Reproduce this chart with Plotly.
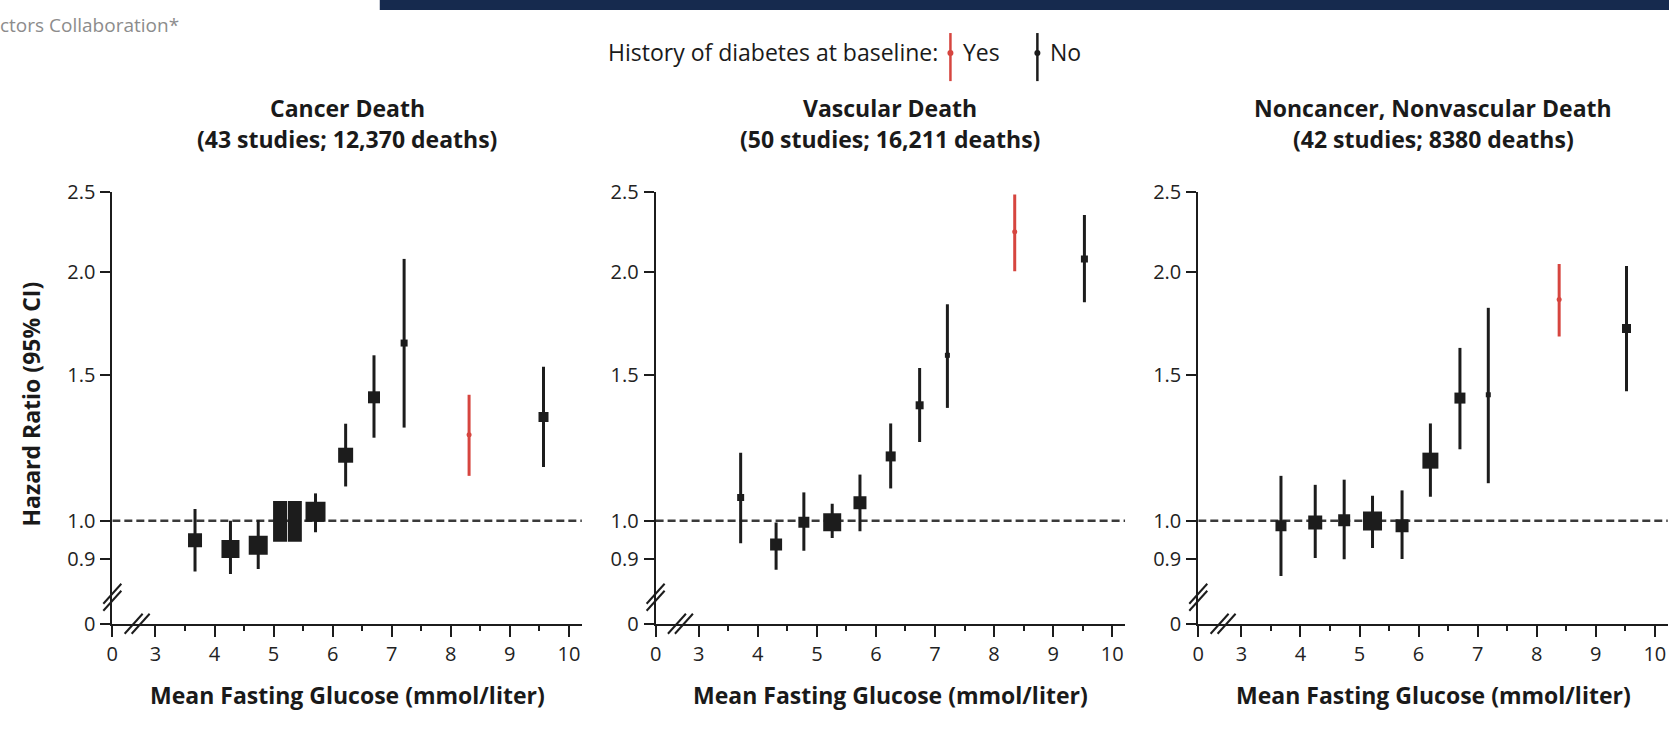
import math
import plotly.graph_objects as go

W, H = 1669, 733          # target picture size
# the photographed frame shows the page slightly enlarged around the figure;
# size and pin the figure so that paper fractions map onto the target frame
SX, SY = 0.997, 0.9636
W2, H2 = round(W / SX), round(H / SY)
OFF_X, OFF_Y = -5, -14

# ---------------- data ----------------
panel_titles = ["Cancer Death", "Vascular Death", "Noncancer, Nonvascular Death"]
panel_subtitles = ["(43 studies; 12,370 deaths)", "(50 studies; 16,211 deaths)",
                   "(42 studies; 8380 deaths)"]

# Cancer death
cancer_x = [3.67, 4.27, 4.74, 5.11, 5.36, 5.71, 6.22, 6.70, 7.21, 8.31, 9.57]
cancer_hr = [0.947, 0.924, 0.934, 0.998, 0.998, 1.025, 1.20, 1.41, 1.64, 1.27, 1.335]
cancer_lo = [0.868, 0.862, 0.874, 0.960, 0.960, 0.968, 1.10, 1.26, 1.296, 1.133, 1.161]
cancer_hi = [1.033, 1.000, 1.002, 1.035, 1.035, 1.079, 1.31, 1.585, 2.073, 1.42, 1.535]
cancer_diabetes = [0, 0, 0, 0, 0, 0, 0, 0, 0, 1, 0]
cancer_weight = [14, 18, 19, 29, 29, 20, 15, 12, 7, 5, 10]

# Vascular death
vascular_x = [3.71, 4.31, 4.78, 5.26, 5.73, 6.25, 6.74, 7.21, 8.35, 9.53]
vascular_hr = [1.067, 0.936, 0.996, 0.996, 1.051, 1.196, 1.379, 1.585, 2.236, 2.073]
vascular_lo = [0.939, 0.872, 0.920, 0.953, 0.971, 1.094, 1.245, 1.369, 2.003, 1.837]
vascular_hi = [1.208, 0.995, 1.082, 1.048, 1.137, 1.311, 1.530, 1.827, 2.480, 2.343]
vascular_diabetes = [0, 0, 0, 0, 0, 0, 0, 0, 1, 0]
vascular_weight = [7, 12, 11, 18, 13, 10, 8, 5, 5, 7]

# Noncancer, nonvascular death
other_x = [3.67, 4.25, 4.74, 5.22, 5.72, 6.20, 6.70, 7.18, 8.38, 9.52]
other_hr = [0.986, 0.995, 1.001, 0.999, 0.986, 1.182, 1.407, 1.420, 1.851, 1.708]
other_lo = [0.857, 0.901, 0.898, 0.927, 0.899, 1.069, 1.220, 1.110, 1.670, 1.434]
other_hi = [1.133, 1.105, 1.121, 1.072, 1.088, 1.311, 1.618, 1.809, 2.044, 2.032]
other_diabetes = [0, 0, 0, 0, 0, 0, 0, 0, 1, 0]
other_weight = [11, 14, 12, 19, 13, 16, 11, 5, 5, 9]

panels = [
    (cancer_x, cancer_hr, cancer_lo, cancer_hi, cancer_diabetes, cancer_weight),
    (vascular_x, vascular_hr, vascular_lo, vascular_hi, vascular_diabetes, vascular_weight),
    (other_x, other_hr, other_lo, other_hi, other_diabetes, other_weight),
]

x_tick_vals = [3, 4, 5, 6, 7, 8, 9, 10]
x_minor_vals = [3.5, 4.5, 5.5, 6.5, 7.5, 8.5, 9.5]
y_tick_vals = [0.9, 1.0, 1.5, 2.0, 2.5]
y_tick_text = ["0.9", "1.0", "1.5", "2.0", "2.5"]

# axis breaks: displayed "0" sits at the broken-axis origin
X_ORIGIN, X_END = 2.27, 10.22
Y_ORIGIN, Y_TOP = 0.7505, 2.5
X_BREAK = 2.69
Y_BREAK = 0.808

# ---------------- styling ----------------
FONT = "Open Sans"
INK = "#1c1c1c"
RED = "#d6453f"
panel_left_px = [111.4, 655.0, 1198.0]
px_per_unit = 59.1
y_bottom_px, y_top_px = 622.9, 191.4

fig = go.Figure()
shapes, annotations = [], []


def px2x(p):
    return p / W


def px2y(p):
    return 1 - p / H


for i, (xs, hr, lo, hi, diab, wt) in enumerate(panels):
    ax = "" if i == 0 else str(i + 1)
    xa, ya = "x" + ax, "y" + ax
    left = panel_left_px[i]
    right = left + (X_END - X_ORIGIN) * px_per_unit
    dom = [px2x(left), px2x(min(right, W))]

    # reference line at HR = 1
    fig.add_trace(go.Scatter(x=[X_ORIGIN, X_END], y=[1.0, 1.0], mode="lines",
                             line=dict(color="#3a3a3a", width=2.5, dash="8px,4px"),
                             xaxis=xa, yaxis=ya, showlegend=False, hoverinfo="skip",
                             cliponaxis=False))

    for flag, color in ((0, INK), (1, RED)):
        idx = [k for k in range(len(xs)) if diab[k] == flag]
        px_ = [xs[k] for k in idx]
        py_ = [hr[k] for k in idx]
        up = [hi[k] - hr[k] for k in idx]
        dn = [hr[k] - lo[k] for k in idx]
        sizes = [wt[k] for k in idx]
        # very heavy adjacent groups in the cancer panel are drawn as tall blocks
        symbols, lwidths = [], []
        for k in idx:
            if flag == 0 and wt[k] >= 25:
                symbols.append("line-ns")
                lwidths.append(14)
            else:
                symbols.append("square" if flag == 0 else "circle")
                lwidths.append(0)
        fig.add_trace(go.Scatter(
            x=px_, y=py_, mode="markers", xaxis=xa, yaxis=ya, showlegend=False,
            marker=dict(symbol=symbols, size=sizes, color=color, opacity=1,
                        line=dict(color=color, width=lwidths)),
            error_y=dict(type="data", symmetric=False, array=up, arrayminus=dn,
                         color=color, thickness=3, width=0),
        ))

    axis_common = dict(showline=True, linecolor=INK, linewidth=2, showgrid=False,
                       zeroline=False, ticks="outside", tickcolor=INK, tickwidth=2,
                       tickfont=dict(family=FONT, size=20, color="#222222"))
    fig.update_layout(**{
        ("xaxis" + ax): dict(domain=dom, anchor=ya, range=[X_ORIGIN, X_END],
                             tickmode="array", tickvals=[X_ORIGIN] + x_tick_vals,
                             ticktext=["0"] + [str(v) for v in x_tick_vals],
                             ticklen=11, ticklabelstandoff=0,
                             minor=dict(tickmode="array", tickvals=x_minor_vals,
                                        ticks="outside", ticklen=5, tickwidth=2,
                                        tickcolor=INK),
                             **axis_common),
        ("yaxis" + ax): dict(domain=[px2y(y_bottom_px), px2y(y_top_px)], anchor=xa,
                             type="log",
                             range=[math.log10(Y_ORIGIN), math.log10(Y_TOP)],
                             tickmode="array", tickvals=[Y_ORIGIN] + y_tick_vals,
                             ticktext=["0"] + y_tick_text, ticklen=10,
                             ticklabelstandoff=1, **axis_common),
    })

    # break marks
    yfrac = (math.log10(Y_BREAK) - math.log10(Y_ORIGIN)) / (math.log10(Y_TOP) - math.log10(Y_ORIGIN))
    for dy in (-3.5, 3.5):
        shapes.append(dict(type="line", xref=xa + " domain", yref=ya + " domain",
                           xsizemode="pixel", ysizemode="pixel", xanchor=0, yanchor=yfrac,
                           x0=-9, y0=-10 + dy, x1=9, y1=10 + dy,
                           line=dict(color=INK, width=2)))
    for dx in (-3.5, 3.5):
        shapes.append(dict(type="line", xref=xa, yref=ya + " domain",
                           xsizemode="pixel", ysizemode="pixel", xanchor=X_BREAK, yanchor=0,
                           x0=-9 + dx, y0=-10, x1=9 + dx, y1=10,
                           line=dict(color=INK, width=2)))

    cx = px2x(left + (X_END - X_ORIGIN) * px_per_unit / 2)
    annotations.append(dict(text="<b>" + panel_titles[i] + "</b>", x=cx, y=px2y(108),
                            xref="paper", yref="paper", showarrow=False,
                            xanchor="center", yanchor="middle",
                            font=dict(family=FONT, size=23, color="#1a1a1a")))
    annotations.append(dict(text="<b>" + panel_subtitles[i] + "</b>", x=cx, y=px2y(139),
                            xref="paper", yref="paper", showarrow=False,
                            xanchor="center", yanchor="middle",
                            font=dict(family=FONT, size=23, color="#1a1a1a")))
    annotations.append(dict(text="<b>Mean Fasting Glucose (mmol/liter)</b>", x=cx,
                            y=px2y(694), xref="paper", yref="paper", showarrow=False,
                            xanchor="center", yanchor="middle",
                            font=dict(family=FONT, size=23, color="#1a1a1a")))

annotations.append(dict(text="<b>Hazard Ratio (95% CI)</b>", x=px2x(30), y=px2y(403),
                        xref="paper", yref="paper", showarrow=False, textangle=-90,
                        xanchor="center", yanchor="middle",
                        font=dict(family=FONT, size=23, color="#1a1a1a")))

# header fragments
annotations.append(dict(text="ctors Collaboration*", x=px2x(-3), y=px2y(25),
                        xref="paper", yref="paper", showarrow=False,
                        xanchor="left", yanchor="middle",
                        font=dict(family=FONT, size=19, color="#8c8c8c")))
shapes.append(dict(type="rect", xref="paper", yref="paper", x0=px2x(379), x1=1.0,
                   y0=px2y(10), y1=1.0, fillcolor="#162a4e", line=dict(width=0),
                   layer="above"))

# legend
annotations.append(dict(text="History of diabetes at baseline:", x=px2x(605), y=px2y(52),
                        xref="paper", yref="paper", showarrow=False,
                        xanchor="left", yanchor="middle",
                        font=dict(family=FONT, size=23, color="#1a1a1a")))
for bx, col, label in ((950, RED, "Yes"), (1037, INK, "No")):
    shapes.append(dict(type="line", xref="paper", yref="paper", x0=px2x(bx), x1=px2x(bx),
                       y0=px2y(33), y1=px2y(81), line=dict(color=col, width=2.5)))
    shapes.append(dict(type="circle", xref="paper", yref="paper",
                       x0=px2x(bx - 3), x1=px2x(bx + 3), y0=px2y(56), y1=px2y(50),
                       fillcolor=col, line=dict(width=0)))
    annotations.append(dict(text=label, x=px2x(bx + 11), y=px2y(52), xref="paper",
                            yref="paper", showarrow=False, xanchor="left",
                            yanchor="middle",
                            font=dict(family=FONT, size=23, color="#1a1a1a")))

fig.update_layout(width=W2, height=H2, margin=dict(l=0, r=0, t=0, b=0),
                  paper_bgcolor="white", plot_bgcolor="white",
                  shapes=shapes, annotations=annotations, showlegend=False)

PIN = ("var h=document.documentElement,b=document.body;"
       "h.style.margin='0';h.style.padding='0';h.style.overflow='hidden';"
       "b.style.margin='0';b.style.padding='0';b.style.overflow='hidden';"
       "var g=document.getElementById('{plot_id}');"
       "g.style.position='fixed';g.style.left='%dpx';g.style.top='%dpx';" % (OFF_X, OFF_Y))

fig.write_html("out.html", config={"displayModeBar": False}, post_script=PIN)
